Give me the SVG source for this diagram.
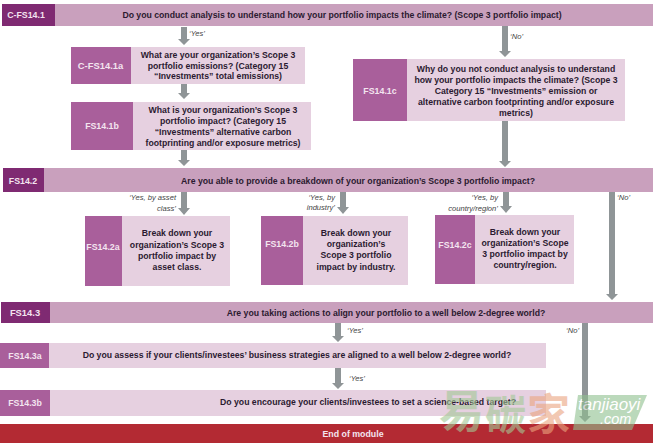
<svg xmlns="http://www.w3.org/2000/svg" width="653" height="443" viewBox="0 0 653 443">
<style>
text{font-family:"Liberation Sans",Arial,sans-serif;fill:#2b1a30}
.b{font-weight:700;font-size:8.7px;text-anchor:middle}
.h{font-weight:700;font-size:8.8px;text-anchor:middle;fill:#f3e4ef}
.l{font-size:9.4px}
.i{font-style:italic;font-size:7.6px;fill:#444}
.r{text-anchor:end}
.e{fill:#e6d0e0}.m{fill:#c9a0bd}.d{fill:#7f2a72}.p{fill:#a95f9b}
.a{fill:#8f9597}
.w{font-family:"Noto Sans CJK SC",sans-serif;font-weight:700}
.t{font-style:italic;fill:#fff}
</style>
<rect width="653" height="443" fill="#fff"/>
<g id="connectors">
<path class="a" d="M181 27H187V39H190L184 45L178 39H181Z"/>
<path class="a" d="M181 84H187V93H190L184 99L178 93H181Z"/>
<path class="a" d="M181 149H187V160H190L184 166L178 160H181Z"/>
<path class="a" d="M502 26H508V51H511L505 57L499 51H502Z"/>
<path class="a" d="M502 121H508V161H511L505 167L499 161H502Z"/>
<path class="a" d="M181 192H187V208H190L184 215L178 208H181Z"/>
<path class="a" d="M340 192H346V207H349L343 214L337 207H340Z"/>
<path class="a" d="M503 192H509V206H512L506 213L500 206H503Z"/>
<path class="a" d="M609 192H615V294H618L612 300L606 294H609Z"/>
<path class="a" d="M335 323H341V336H344L338 342L332 336H335Z"/>
<path class="a" d="M335 368H341V383H344L338 389L332 383H335Z"/>
<path class="a" d="M582 323H588V416H591L585 422L579 416H582Z"/>
<text class="i" x="189" y="36">‘Yes’</text>
<text class="i" x="510" y="39">‘No’</text>
<text class="i r" x="176" y="200">‘Yes, by asset</text><text class="i r" x="176" y="211">class’</text>
<text class="i r" x="335" y="200">‘Yes, by</text><text class="i r" x="335" y="210">industry’</text>
<text class="i r" x="498" y="200">‘Yes, by</text><text class="i r" x="498" y="210.500">country/region’</text>
<text class="i" x="617" y="200">‘No’</text>
<text class="i" x="347" y="333">‘Yes’</text>
<text class="i" x="566" y="333">‘No’</text>
<text class="i" x="349" y="381">‘Yes’</text>
</g>
<g id="C-FS14.1"><rect class="m" x="2" y="4" width="651" height="22"/><rect class="d" x="2" y="4" width="53" height="22"/><text class="h" x="26" y="18">C-FS14.1</text><text class="b" x="342" y="18">Do you conduct analysis to understand how your portfolio impacts the climate? (Scope 3 portfolio impact)</text></g>
<g id="C-FS14.1a"><rect class="e" x="71" y="47" width="234" height="37"/><rect class="p" x="71" y="47" width="60" height="37"/><text class="h l" x="100.500" y="69">C-FS14.1a</text><text class="b" x="218" y="58">What are your organization’s Scope 3</text><text class="b" x="218" y="69">portfolio emissions? (Category 15</text><text class="b" x="218" y="79">“Investments” total emissions)</text></g>
<g id="FS14.1b"><rect class="e" x="71" y="102" width="240" height="48"/><rect class="p" x="71" y="102" width="62" height="48"/><text class="h" x="102" y="129">FS14.1b</text><text class="b" x="223" y="113">What is your organization’s Scope 3</text><text class="b" x="223" y="124">portfolio impact? (Category 15</text><text class="b" x="223" y="135">“Investments” alternative carbon</text><text class="b" x="223" y="146">footprinting and/or exposure metrics)</text></g>
<g id="FS14.1c"><rect class="e" x="353" y="59" width="272" height="62"/><rect class="p" x="353" y="59" width="54" height="62"/><text class="h" x="380" y="94">FS14.1c</text><text class="b" x="516" y="72">Why do you not conduct analysis to understand</text><text class="b" x="516" y="83">how your portfolio impacts the climate? (Scope 3</text><text class="b" x="516" y="94">Category 15 “Investments” emission or</text><text class="b" x="516" y="105">alternative carbon footprinting and/or exposure</text><text class="b" x="516" y="116">metrics)</text></g>
<g id="FS14.2"><rect class="m" x="3" y="168" width="650" height="24"/><rect class="d" x="3" y="168" width="41" height="24"/><text class="h" x="23" y="184">FS14.2</text><text class="b" x="358" y="184">Are you able to provide a breakdown of your organization’s Scope 3 portfolio impact?</text></g>
<g id="FS14.2a"><rect class="e" x="85" y="216" width="145" height="70"/><rect class="p" x="85" y="216" width="37" height="70"/><text class="h" x="103" y="250">FS14.2a</text><text class="b" x="177" y="236">Break down your</text><text class="b" x="177" y="248">organization’s Scope 3</text><text class="b" x="177" y="259">portfolio impact by</text><text class="b" x="177" y="270">asset class.</text></g>
<g id="FS14.2b"><rect class="e" x="261" y="216" width="147" height="69"/><rect class="p" x="261" y="216" width="42" height="69"/><text class="h" x="282" y="247">FS14.2b</text><text class="b" x="356" y="236">Break down your</text><text class="b" x="356" y="247">organization’s</text><text class="b" x="356" y="258">Scope 3 portfolio</text><text class="b" x="356" y="270">impact by industry.</text></g>
<g id="FS14.2c"><rect class="e" x="435" y="215" width="139" height="69"/><rect class="p" x="435" y="215" width="40" height="69"/><text class="h" x="455" y="248">FS14.2c</text><text class="b" x="525" y="235">Break down your</text><text class="b" x="525" y="246">organization’s Scope</text><text class="b" x="525" y="257">3 portfolio impact by</text><text class="b" x="525" y="268">country/region.</text></g>
<g id="FS14.3"><rect class="m" x="1" y="302" width="652" height="21"/><rect class="d" x="1" y="302" width="49" height="21"/><text class="h l" x="25" y="316">FS14.3</text><text class="b" x="386" y="316">Are you taking actions to align your portfolio to a well below 2-degree world?</text></g>
<g id="FS14.3a"><rect class="e" x="0" y="343" width="546" height="25"/><rect class="p" x="0" y="343" width="49" height="25"/><text class="h" x="25" y="359">FS14.3a</text><text class="b" x="297" y="358">Do you assess if your clients/investees’ business strategies are aligned to a well below 2-degree world?</text></g>
<g id="FS14.3b"><rect class="e" x="0" y="390" width="546" height="26"/><rect class="p" x="0" y="390" width="50" height="26"/><text class="h" x="25" y="406">FS14.3b</text><text class="b" x="368" y="405">Do you encourage your clients/investees to set a science-based target?</text></g>
<g id="end"><rect x="0" y="424" width="653" height="19" fill="#b32a33"/><text class="h" x="353" y="437">End of module</text></g>
<g id="watermark" opacity="0.6">
<text class="w" x="439" y="428" font-size="45" style="fill:#a3c996">易</text>
<text class="w" x="485" y="430" font-size="41" style="fill:#a3c996">碳</text>
<text class="w" x="527" y="430" font-size="43" style="fill:#eba57f">家</text>
<path d="M578 395H647L632 430H573Z" fill="#8fc08f"/>
<text class="t" x="578" y="410" font-size="17">tanjiaoyi</text>
<text class="t" x="600" y="424" font-size="14.500">.com</text>
</g>
</svg>
